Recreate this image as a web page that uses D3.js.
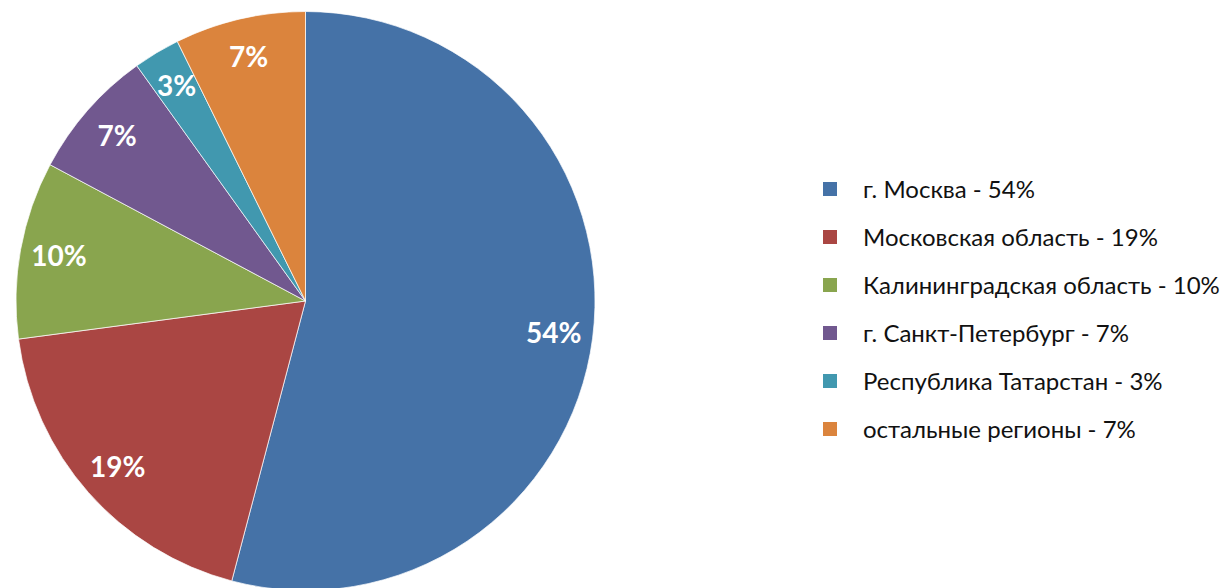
<!DOCTYPE html>
<html>
<head>
<meta charset="utf-8">
<script src="https://cdn.jsdelivr.net/npm/d3@7"></script>
<style>
  html, body { margin: 0; padding: 0; background: #fff; }
  svg { display: block; }
</style>
</head>
<body>
<div id="chart"></div>
<script>
// regions and their shares (percent)
const regions = [
    'г. Москва',
    'Московская область',
    'Калининградская область',
    'г. Санкт-Петербург',
    'Республика Татарстан',
    'остальные регионы'
];
const shares = [54.1, 18.8, 9.9, 7.3, 2.6, 7.3];
const colors = ['#4572A7', '#AA4643', '#89A54E', '#71588F', '#4198AF', '#DB843D'];

const width = 1225, height = 588;
const cx = 305.5, cy = 301;
const radius = 289.5;

const svg = d3.select('#chart')
    .append('svg')
    .attr('width', width)
    .attr('height', height);

const data = regions.map((name, i) => ({ name, value: shares[i], color: colors[i] }));

// clockwise from 12 o'clock, keep the given order
const pie = d3.pie()
    .sort(null)
    .value(d => d.value);

const arcs = pie(data);

const arc = d3.arc()
    .innerRadius(0)
    .outerRadius(radius);

const labelArc = d3.arc()
    .innerRadius(radius * 0.865)
    .outerRadius(radius * 0.865);

const g = svg.append('g')
    .attr('transform', `translate(${cx},${cy})`);

g.selectAll('path')
    .data(arcs)
    .join('path')
    .attr('d', arc)
    .attr('fill', d => d.data.color)
    .attr('stroke', '#fff')
    .attr('stroke-width', 0.7);

// slice labels
g.selectAll('text')
    .data(arcs)
    .join('text')
    .attr('transform', d => {
        const [x, y] = labelArc.centroid(d);
        return `translate(${x},${y})`;
    })
    .attr('text-anchor', 'middle')
    .attr('dy', '0.36em')
    .attr('font-family', 'Lato, "Open Sans", sans-serif')
    .attr('font-weight', 'bold')
    .attr('font-size', '28px')
    .attr('fill', '#fff')
    .text(d => Math.round(d.data.value) + '%');

// legend
const legendX = 823, legendY = 189, rowGap = 48;

const legend = svg.append('g')
    .attr('transform', `translate(${legendX},${legendY})`);

const row = legend.selectAll('g')
    .data(data)
    .join('g')
    .attr('transform', (d, i) => `translate(0,${i * rowGap})`);

row.append('rect')
    .attr('x', 0)
    .attr('y', -7)
    .attr('width', 14)
    .attr('height', 14)
    .attr('fill', d => d.color);

row.append('text')
    .attr('x', 40)
    .attr('dy', '0.36em')
    .attr('font-family', 'Lato, "Open Sans", sans-serif')
    .attr('font-size', '24px')
    .attr('fill', '#111')
    .text(d => `${d.name} - ${Math.round(d.value)}%`);
</script>
</body>
</html>
